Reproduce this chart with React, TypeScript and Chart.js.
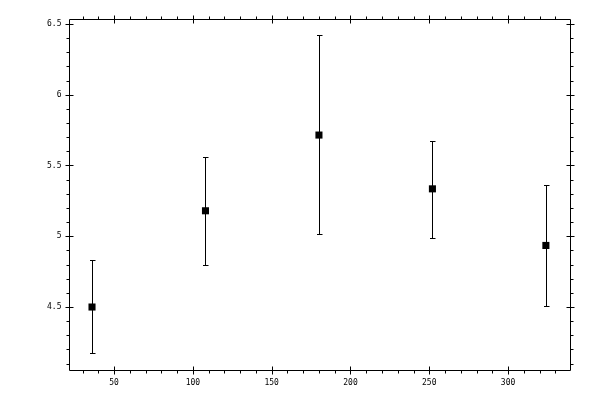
import { Chart, registerables } from 'chart.js';
import { useEffect, useRef } from 'react';

Chart.register(...registerables);

// data
const xValues = [36, 108, 180, 252, 324];
const yValues = [4.5, 5.18, 5.715, 5.335, 4.935];
const errLow = [4.175, 4.795, 5.015, 4.985, 4.51];
const errHigh = [4.83, 5.56, 6.425, 5.67, 5.36];

const xTicks = [50, 100, 150, 200, 250, 300];
const yTicks = [4.5, 5, 5.5, 6, 6.5];
const xMinorStep = 10;
const yMinorStep = 0.1;

const X_MIN = 21.4;
const X_MAX = 339.3;
const Y_MIN = 4.055;
const Y_MAX = 6.535;

const FONT = '8px "DejaVu Sans Mono", monospace';

// error bars drawn through the chart's scales
const errorBarPlugin = {
    id: 'errorBars',
    afterDatasetsDraw(chart: any) {
        const ctx = chart.ctx;
        const xs = chart.scales.x;
        const ys = chart.scales.y;
        ctx.save();
        ctx.strokeStyle = '#000';
        ctx.lineWidth = 1;
        xValues.forEach((xv, i) => {
            const px = Math.round(xs.getPixelForValue(xv)) + 0.5;
            const top = Math.round(ys.getPixelForValue(errHigh[i])) + 0.5;
            const bot = Math.round(ys.getPixelForValue(errLow[i])) + 0.5;
            ctx.beginPath();
            ctx.moveTo(px, top);
            ctx.lineTo(px, bot);
            ctx.moveTo(px - 2.5, top);
            ctx.lineTo(px + 3, top);
            ctx.moveTo(px - 2.5, bot);
            ctx.lineTo(px + 3, bot);
            ctx.stroke();
        });
        ctx.restore();
    },
};

// framed axes with ticks on all four sides
const framePlugin = {
    id: 'frame',
    afterDraw(chart: any) {
        const ctx = chart.ctx;
        const xs = chart.scales.x;
        const ys = chart.scales.y;
        const { left, right, top, bottom } = chart.chartArea;
        const L = Math.round(left) + 0.5;
        const R = Math.round(right) + 0.5;
        const T = Math.round(top) + 0.5;
        const B = Math.round(bottom) + 0.5;
        ctx.save();
        ctx.strokeStyle = '#000';
        ctx.lineWidth = 1;
        ctx.beginPath();
        ctx.rect(L, T, R - L, B - T);
        ctx.stroke();

        ctx.beginPath();
        // minor x ticks (outward)
        for (let v = Math.ceil(X_MIN / xMinorStep) * xMinorStep; v <= X_MAX; v += xMinorStep) {
            const px = Math.round(xs.getPixelForValue(v)) + 0.5;
            ctx.moveTo(px, B);
            ctx.lineTo(px, B + 3);
            ctx.moveTo(px, T);
            ctx.lineTo(px, T - 3);
        }
        // major x ticks (crossing)
        xTicks.forEach((v) => {
            const px = Math.round(xs.getPixelForValue(v)) + 0.5;
            ctx.moveTo(px, B - 4);
            ctx.lineTo(px, B + 4);
            ctx.moveTo(px, T - 4);
            ctx.lineTo(px, T + 4);
        });
        // minor y ticks
        for (let k = Math.ceil(Y_MIN / yMinorStep); k * yMinorStep <= Y_MAX; k++) {
            const py = Math.round(ys.getPixelForValue(k * yMinorStep)) + 0.5;
            ctx.moveTo(L, py);
            ctx.lineTo(L - 3, py);
            ctx.moveTo(R, py);
            ctx.lineTo(R + 3, py);
        }
        yTicks.forEach((v) => {
            const py = Math.round(ys.getPixelForValue(v)) + 0.5;
            ctx.moveTo(L - 4, py);
            ctx.lineTo(L + 4, py);
            ctx.moveTo(R - 4, py);
            ctx.lineTo(R + 4, py);
        });
        ctx.stroke();

        ctx.fillStyle = '#000';
        ctx.font = FONT;
        ctx.textAlign = 'center';
        ctx.textBaseline = 'middle';
        xTicks.forEach((v) => {
            ctx.fillText(String(v), xs.getPixelForValue(v), B + 12);
        });
        ctx.textAlign = 'right';
        yTicks.forEach((v) => {
            ctx.fillText(String(v), L - 8, ys.getPixelForValue(v));
        });
        ctx.restore();
    },
};

const App = () => {
    const chartRef = useRef<HTMLCanvasElement>(null);

    useEffect(() => {
        if (!chartRef.current) return;
        const chart = new Chart(chartRef.current, {
            type: 'scatter',
            data: {
                datasets: [
                    {
                        label: 'mean',
                        data: xValues.map((x, i) => ({ x, y: yValues[i] })),
                        pointStyle: 'rect',
                        pointRadius: 5,
                        pointBackgroundColor: '#000',
                        pointBorderWidth: 0,
                        borderColor: '#000',
                    },
                ],
            },
            options: {
                animation: false,
                responsive: false,
                devicePixelRatio: 1,
                layout: { padding: { left: 69, right: 30, top: 19, bottom: 30 } },
                plugins: {
                    legend: { display: false },
                    tooltip: { enabled: false },
                },
                scales: {
                    x: { type: 'linear', min: X_MIN, max: X_MAX, display: false },
                    y: { type: 'linear', min: Y_MIN, max: Y_MAX, display: false },
                },
            },
            plugins: [errorBarPlugin, framePlugin],
        });
        return () => {
            chart.destroy();
        };
    }, []);

    return (
        <div style={{ position: 'fixed', left: 0, top: 0, width: 600, height: 400, background: '#fff' }}>
            <canvas ref={chartRef} width="600" height="400"></canvas>
        </div>
    );
};

export default App;
